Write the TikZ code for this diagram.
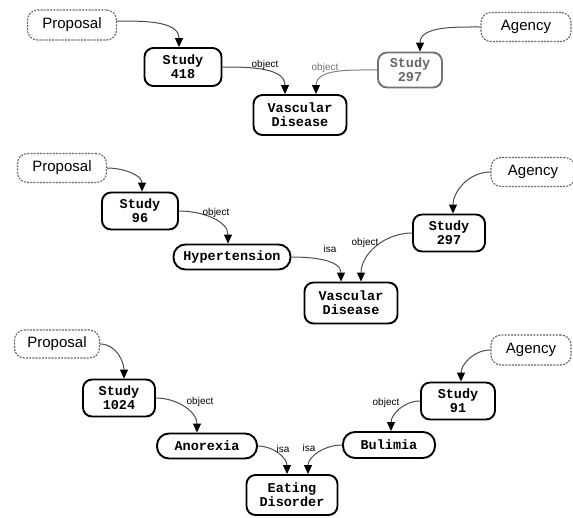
\documentclass[tikz,border=0pt]{standalone}
\usepackage{fontspec}
\setmainfont{Liberation Sans}
\newfontfamily\boxfont{Liberation Mono}
\usetikzlibrary{arrows.meta}

\begin{document}
\begin{tikzpicture}[x=1pt, y=-1pt,
  concept/.style={draw=black, line width=1.9pt, rounded corners=9pt, inner sep=0pt,
    align=center, font=\boxfont\bfseries\fontsize{13.5}{14}\selectfont},
  pill/.style={concept, rounded corners=12pt},
  faded/.style={draw=black!55, text=black!60},
  actor/.style={draw=black!60, dash pattern=on 2pt off 1.2pt, line width=1.1pt,
    rounded corners=10pt, inner sep=0pt, font=\fontsize{15}{16}\selectfont},
  link/.style={draw=black!70, line width=1pt, -{Triangle[length=9pt,width=8pt,color=black]}},
  lbl/.style={font=\fontsize{10}{11}\selectfont, inner sep=0pt}]
\useasboundingbox (0,0) rectangle (573,517);

% ---- first graph: two studies on vascular disease
\node[actor, minimum width=89pt, minimum height=30pt] (prop1) at (72,25) {Proposal};
\node[actor, minimum width=90pt, minimum height=29pt] (agen1) at (526,27) {Agency};
\node[concept, minimum width=77pt, minimum height=38pt] (s418) at (183,67) {Study\\418};
\node[concept, faded, minimum width=64pt, minimum height=35pt] (s297a) at (410,70) {Study\\297};
\node[concept, minimum width=93pt, minimum height=40pt] (vd1) at (300,115) {Vascular\\Disease};

\draw[link] ([yshift=4pt]prop1.east) to[out=0,in=90] ([xshift=-4pt]s418.north);
\draw[link] (agen1.west) to[out=180,in=90] ([xshift=10pt]s297a.north);
\draw[link] (s418.east) to[out=0,in=90] ([xshift=-15pt]vd1.north);
\draw[link, draw=black!50] (s297a.west) to[out=180,in=90] ([xshift=16pt]vd1.north);
\node[lbl] (o1) at (265,65) {object};
\node[lbl, text=black!55] (o2) at (325,68) {object};

% ---- second graph: hypertension isa vascular disease
\node[actor, minimum width=89pt, minimum height=29pt] (prop2) at (62,168) {Proposal};
\node[actor, minimum width=84pt, minimum height=29pt] (agen2) at (533,172) {Agency};
\node[concept, minimum width=76pt, minimum height=37pt] (s96) at (140,211) {Study\\96};
\node[pill, minimum width=117pt, minimum height=25pt] (hyp) at (232,257) {Hypertension};
\node[concept, minimum width=72pt, minimum height=37pt] (s297b) at (449,233) {Study\\297};
\node[concept, minimum width=93pt, minimum height=41pt] (vd2) at (351,303) {Vascular\\Disease};

\draw[link] (prop2.east) to[out=0,in=90] ([xshift=2pt]s96.north);
\draw[link] (agen2.west) to[out=180,in=90] ([xshift=4pt]s297b.north);
\draw[link] (s96.east) to[out=0,in=90] ([xshift=-4pt]hyp.north);
\draw[link] (hyp.east) to[out=0,in=90] ([xshift=-10pt]vd2.north);
\draw[link] (s297b.west) to[out=180,in=90] ([xshift=10pt]vd2.north);
\node[lbl] (o3) at (216,213) {object};
\node[lbl] (i1) at (330,249) {isa};
\node[lbl] (o4) at (365,243) {object};

% ---- third graph: anorexia and bulimia isa eating disorder
\node[actor, minimum width=85pt, minimum height=28pt] (prop3) at (57,344) {Proposal};
\node[actor, minimum width=80pt, minimum height=30pt] (agen3) at (531,350) {Agency};
\node[concept, minimum width=72pt, minimum height=37pt] (s1024) at (119,398) {Study\\1024};
\node[concept, minimum width=74pt, minimum height=37pt] (s91) at (458,401) {Study\\91};
\node[pill, minimum width=100pt, minimum height=25pt] (ano) at (207,446) {Anorexia};
\node[pill, minimum width=92pt, minimum height=26pt] (bul) at (389,445) {Bulimia};
\node[concept, minimum width=91pt, minimum height=40pt] (ed) at (292,495) {Eating\\Disorder};

\draw[link] (prop3.east) to[out=0,in=90] ([xshift=5pt]s1024.north);
\draw[link] (agen3.west) to[out=180,in=90] ([xshift=3pt]s91.north);
\draw[link] (s1024.east) to[out=0,in=90] ([xshift=-10pt]ano.north);
\draw[link] (ano.east) to[out=0,in=90] ([xshift=-5pt]ed.north);
\draw[link] (bul.west) to[out=180,in=90] ([xshift=16pt]ed.north);
\draw[link] (s91.west) to[out=180,in=90] ([xshift=2pt]bul.north);
\node[lbl] (o5) at (200,402) {object};
\node[lbl] (i2) at (283,449) {isa};
\node[lbl] (i3) at (309,448) {isa};
\node[lbl] (o6) at (386,403) {object};
\end{tikzpicture}
\end{document}
